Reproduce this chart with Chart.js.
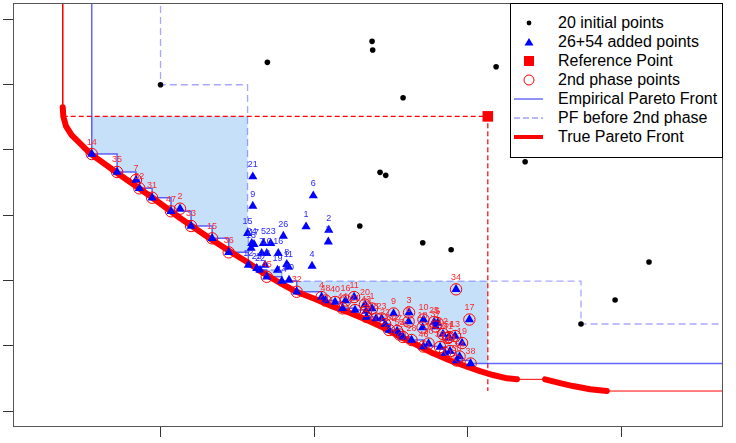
<!DOCTYPE html>
<html>
<head>
<meta charset="utf-8">
<script src="https://cdn.jsdelivr.net/npm/chart.js@4.4.1/dist/chart.umd.min.js"></script>
<style>
  body { margin: 0; background: #fff; }
  #wrap { position: relative; width: 736px; height: 443px; }
  #legend {
    position: absolute; left: 510px; top: 3px; width: 213px; height: 155px;
    box-sizing: border-box; background: #fff; border: 1px solid #000;
    font: 16px "Liberation Sans", Arial, sans-serif; color: #000;
  }
  .row { position: absolute; left: 0; width: 100%; height: 18px; }
  .row svg { position: absolute; left: 3px; top: 1px; }
  .row span { position: absolute; left: 47px; top: 0; line-height: 18px; white-space: nowrap; }
</style>
</head>
<body>
<div id="wrap">
  <canvas id="chart" width="736" height="443"></canvas>
  <div id="legend"></div>
</div>
<script>
// axis ticks (labels are cut off in the original, only the marks show)
const xTicks = [1, 2, 3, 4]
const yTicks = [0, 1, 2, 3, 4, 5, 6]

// 20 initial points (the visible ones)
const initX = [1.000, 1.696, 2.378, 2.382, 3.186, 2.580, 2.430, 2.467, 2.298, 2.708, 2.893, 3.375, 4.182, 3.961, 3.739]
const initY = [4.998, 5.341, 5.663, 5.530, 5.274, 4.799, 3.657, 3.611, 2.835, 2.579, 2.472, 3.819, 2.283, 1.701, 1.334]

// 26 points added in the 1st phase
const p1Labels = [1, 2, 3, 4, 5, 6, 7, 8, 9, 10, 11, 12, 13, 14, 15, 16, 17, 18, 19, 20, 21, 22, 23, 24, 25, 26]
const p1X = [1.948, 2.096, 2.093, 1.987, 1.670, 1.995, 1.659, 1.822, 1.601, 1.692, 1.833, 1.572, 1.590, 1.790, 1.567, 1.767, 1.609, 1.681, 1.762, 1.837, 1.601, 1.648, 1.718, 1.594, 1.627, 1.800]
const p1Y = [2.824, 2.773, 2.594, 2.222, 2.570, 3.299, 2.417, 2.248, 3.141, 2.417, 2.211, 2.237, 2.498, 1.992, 2.723, 2.417, 2.554, 2.237, 2.161, 2.008, 3.590, 2.161, 2.570, 2.570, 2.187, 2.681]

// 54 points added in the 2nd phase
const p2Labels = Array.from({ length: 54 }, (_, i) => i + 1)
const p2X = [2.378, 1.127, 2.619, 2.049, 2.805, 2.616, 0.840, 2.404, 2.518, 2.713,
  2.261, 2.840, 2.919, 0.552, 1.336, 2.205, 3.012, 2.707, 2.964, 2.332,
  2.267, 2.463, 2.440, 2.489, 2.782, 2.580, 2.541, 2.635, 2.342, 2.746,
  0.945, 1.887, 1.199, 2.925, 0.717, 1.444, 2.792, 3.020, 2.821, 2.137,
  2.873, 2.853, 2.339, 2.186, 1.692, 2.713, 1.068, 2.075, 2.886, 2.928,
  2.879, 0.862, 2.557, 2.948]
const p2Y = [1.571, 3.100, 1.510, 1.747, 1.349, 1.372, 3.539, 1.418, 1.495, 1.403,
  1.747, 1.181, 1.150, 3.937, 2.646, 1.694, 1.403, 1.280, 1.043, 1.632,
  1.548, 1.334, 1.418, 1.242, 1.364, 1.135, 1.227, 1.089, 1.441, 1.035,
  3.268, 1.828, 2.835, 1.865, 3.662, 2.432, 1.296, 0.729, 0.982, 1.671,
  1.119, 0.890, 1.533, 1.574, 2.058, 0.989, 3.060, 1.694, 0.920, 0.775,
  1.135, 3.412, 1.173, 0.836]

// reference point
const refX = 3.132
const refY = 4.514

// true Pareto front (disconnected after index trueBreak - 1)
const trueX = [0.363, 0.367, 0.384, 0.421, 0.476, 0.541, 0.736, 0.932, 1.127, 1.322, 1.453, 1.564, 1.668, 1.779, 1.889, 2.007, 2.124, 2.235, 2.345, 2.450, 2.560, 2.671, 2.775, 2.886, 2.997, 3.081, 3.166, 3.257, 3.322, 3.505, 3.603, 3.687, 3.798, 3.907]
const trueY = [4.652, 4.508, 4.366, 4.228, 4.101, 3.948, 3.616, 3.294, 2.957, 2.643, 2.444, 2.283, 2.115, 1.962, 1.824, 1.717, 1.599, 1.502, 1.395, 1.280, 1.142, 1.012, 0.885, 0.775, 0.680, 0.614, 0.553, 0.502, 0.487, 0.487, 0.430, 0.384, 0.334, 0.308]
const trueBreak = 29

const legendLabels = ['20 initial points', '26+54 added points', 'Reference Point', '2nd phase points', 'Empirical Pareto Front', 'PF before 2nd phase', 'True Pareto Front']

const FAR = 50
const toPoints = (xs, ys) => xs.map((x, i) => ({ x, y: ys[i] }))

const initPts = toPoints(initX, initY)
const p1Pts = toPoints(p1X, p1Y)
const p2Pts = toPoints(p2X, p2Y)
const truePts = toPoints(trueX, trueY)

// non dominated points, both objectives minimised
const paretoFront = (pts) => {
  const sorted = [...pts].sort((a, b) => a.x - b.x || a.y - b.y)
  let best = Infinity
  return sorted.reduce((acc, p) => {
    if (p.y < best) {
      acc.push(p)
      best = p.y
    }
    return acc
  }, [])
}

const stairs = (front) => [{ x: front[0].x, y: FAR }, ...front, { x: FAR, y: front[front.length - 1].y }]

// area dominated by a front inside the reference box
const dominatedArea = (front) => {
  const f = front.filter(p => p.x < refX && p.y < refY)
  const poly = [{ x: f[0].x, y: refY }]
  f.forEach((p, i) => {
    if (i > 0) poly.push({ x: p.x, y: f[i - 1].y })
    poly.push(p)
  })
  poly.push({ x: refX, y: f[f.length - 1].y }, { x: refX, y: refY })
  return poly
}

const frontBefore = paretoFront([...initPts, ...p1Pts])
const frontAll = paretoFront([...initPts, ...p1Pts, ...p2Pts])

const idealX = Math.min(...trueX)
const idealY = Math.min(...trueY)
const trueThick = truePts.flatMap((p, i) => i === trueBreak ? [{ x: p.x, y: null }, p] : [p])
const trueThin = [{ x: trueX[0], y: FAR }, ...truePts, { x: FAR, y: trueY[trueY.length - 1] }]

const lineSet = (data, color, width, extra) => ({
  data,
  showLine: true,
  borderColor: color,
  borderWidth: width,
  pointRadius: 0,
  fill: false,
  ...extra,
})

const framePlugin = {
  id: 'frame',
  afterDatasetsDraw: (chart) => {
    const { ctx, chartArea: a } = chart
    ctx.save()
    ctx.strokeStyle = '#555'
    ctx.lineWidth = 1
    ctx.strokeRect(a.left + 0.5, a.top + 0.5, a.right - a.left - 1, a.bottom - a.top - 1)
    ctx.restore()
  }
}

const labelPlugin = {
  id: 'pointLabels',
  afterDatasetsDraw: (chart) => {
    const { ctx } = chart
    ctx.save()
    ctx.font = '9px "Liberation Sans", Arial, sans-serif'
    ctx.textAlign = 'center'
    ctx.textBaseline = 'middle'
    chart.data.datasets.forEach((ds, i) => {
      if (!ds.pointLabels) return
      ctx.fillStyle = ds.labelColor
      chart.getDatasetMeta(i).data.forEach((pt, j) => ctx.fillText(ds.pointLabels[j], pt.x, pt.y - 12))
    })
    ctx.restore()
  }
}

new Chart(document.getElementById('chart'), {
  type: 'scatter',
  data: {
    datasets: [
      lineSet(dominatedArea(frontAll), 'transparent', 0, { fill: 'shape', backgroundColor: 'rgb(198,224,250)', order: 30 }),
      lineSet(dominatedArea(frontBefore), 'transparent', 0, { fill: 'shape', backgroundColor: '#ffffff', order: 29 }),
      lineSet(stairs(frontBefore), 'rgba(80,80,255,0.5)', 1.3, { stepped: true, borderDash: [7, 4], order: 28 }),
      lineSet([{ x: idealX, y: refY }, { x: refX, y: refY }, { x: refX, y: idealY }], '#ff0000', 1.2, { borderDash: [5, 3], order: 27 }),
      lineSet(trueThin, '#ff0000', 1, { order: 26 }),
      lineSet(stairs(frontAll), 'rgba(40,40,255,0.72)', 1.5, { stepped: true, order: 25 }),
      lineSet(trueThick, '#ff0000', 6, { spanGaps: false, borderCapStyle: 'round', borderJoinStyle: 'round', order: 24 }),
      {
        data: initPts, order: 23,
        pointStyle: 'circle', pointRadius: 2.8, pointBackgroundColor: '#000', pointBorderWidth: 0,
      },
      {
        data: [{ x: refX, y: refY }], order: 22,
        pointStyle: 'rect', pointRadius: 7.5, pointBackgroundColor: '#ff0000', pointBorderWidth: 0,
      },
      {
        data: p1Pts, order: 21, pointLabels: p1Labels, labelColor: 'rgb(40,40,255)',
        pointStyle: 'triangle', pointRadius: 5.3, pointBackgroundColor: '#0000ff', pointBorderWidth: 0,
      },
      {
        data: p2Pts, order: 20,
        pointStyle: 'triangle', pointRadius: 5.3, pointBackgroundColor: '#0000ff', pointBorderWidth: 0,
      },
      {
        data: p2Pts, order: 19, pointLabels: p2Labels, labelColor: 'rgb(255,40,40)',
        pointStyle: 'circle', pointRadius: 5.7, pointBackgroundColor: 'transparent', pointBorderColor: '#ff0000', pointBorderWidth: 1,
      },
    ]
  },
  options: {
    responsive: false,
    devicePixelRatio: 1,
    animation: false,
    events: [],
    layout: { autoPadding: false, padding: { top: 3, right: 13, left: 0, bottom: 0 } },
    plugins: { legend: { display: false }, tooltip: { enabled: false } },
    scales: {
      x: {
        type: 'linear', min: 0.039, max: 4.664,
        afterBuildTicks: (s) => { s.ticks = xTicks.map(v => ({ value: v })) },
        afterFit: (s) => { s.height = 16 },
        ticks: { display: false },
        grid: { drawOnChartArea: false, tickLength: 10, color: '#333' },
        border: { display: false },
      },
      y: {
        type: 'linear', min: -0.243, max: 6.25,
        afterBuildTicks: (s) => { s.ticks = yTicks.map(v => ({ value: v })) },
        afterFit: (s) => { s.width = 13 },
        ticks: { display: false },
        grid: { drawOnChartArea: false, tickLength: 10, color: '#333' },
        border: { display: false },
      },
    },
  },
  plugins: [framePlugin, labelPlugin],
})

// legend, drawn as html over the plot like the boxed R legend
const legendSymbols = [
  '<circle cx="15" cy="8" r="2.4" fill="#000"/>',
  '<polygon points="15,4 19.5,11.5 10.5,11.5" fill="#0000ff"/>',
  '<rect x="10" y="3" width="10" height="10" fill="#ff0000"/>',
  '<circle cx="15" cy="8" r="5" fill="none" stroke="#ff0000" stroke-width="1"/>',
  '<line x1="0" y1="8" x2="29" y2="8" stroke="rgb(110,110,255)" stroke-width="1.5"/>',
  '<line x1="0" y1="8" x2="29" y2="8" stroke="rgb(160,160,255)" stroke-width="1.5" stroke-dasharray="6,3"/>',
  '<line x1="0" y1="8" x2="29" y2="8" stroke="#ff0000" stroke-width="4"/>',
]

document.getElementById('legend').innerHTML = legendLabels.reduce((acc, label, idx) => acc + `
  <div class="row" style="top:${(10 + 19.07 * idx).toFixed(1)}px">
    <svg width="30" height="16">${legendSymbols[idx]}</svg>
    <span>${label}</span>
  </div>`, '')
</script>
</body>
</html>
